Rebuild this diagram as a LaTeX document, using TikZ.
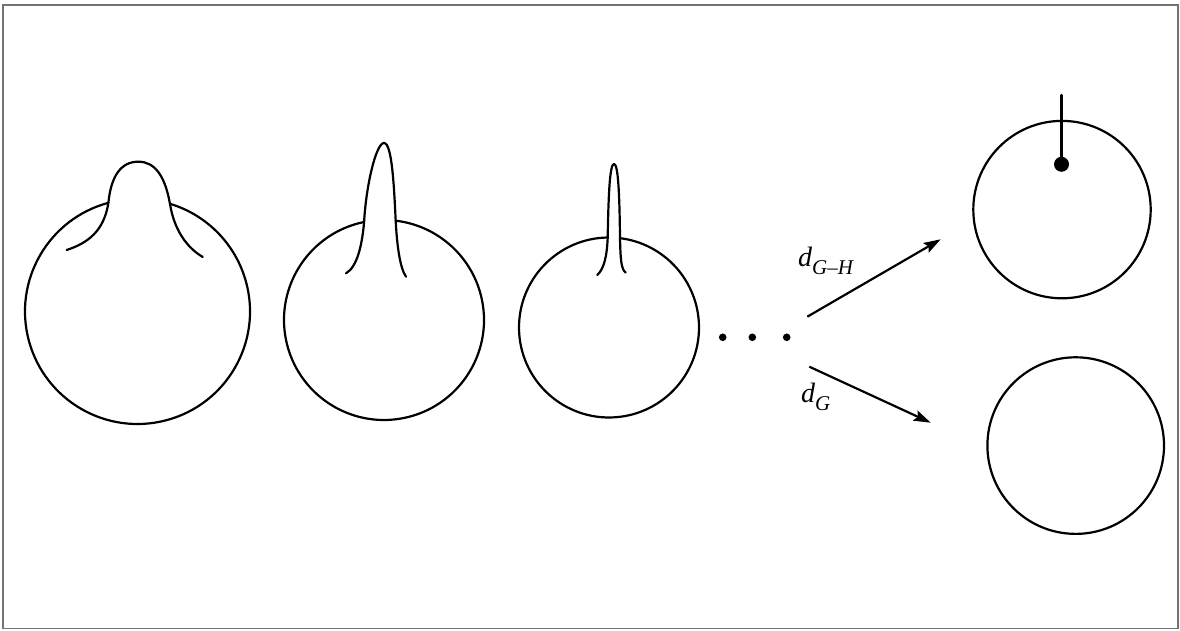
\documentclass[tikz,border=0pt]{standalone}
\usepackage{fontspec}
\setmainfont{Liberation Serif}
\usetikzlibrary{arrows.meta}
\tikzset{
  curve/.style={line width=2.2pt, line cap=round, line join=round},
  arr/.style={line width=2.2pt, -{Stealth[length=17pt,width=11pt,inset=3pt]}},
  lbl/.style={anchor=base west, inner sep=0pt, font=\fontsize{28}{30}\selectfont\itshape},
  frame/.style={draw=black!55, line width=1.8pt},
  dotfill/.style={fill=black}
}
\newcommand{\lblsub}[1]{\raisebox{-8pt}{\fontsize{21}{22}\selectfont #1}}
\begin{document}
\begin{tikzpicture}[x=1pt,y=1pt]
\useasboundingbox (0,0) rectangle (1180,631);
\draw[frame] (3,2.5) rectangle (1178,626);

% shape 1
\draw[curve] ([shift={(105:112.5)}]137.5,319.5) arc[start angle=105, end angle=433, radius=112.5];
\draw[curve] (66.7,381) .. controls (88,388) and (104,400) .. (108.4,428.2)
  .. controls (111,455) and (121,469.3) .. (138.3,469.3)
  .. controls (155,469.3) and (165,455) .. (170,427)
  .. controls (174,402) and (186,384) .. (202.7,374);

% shape 2
\draw[curve] ([shift={(101.5:100)}]384,311) arc[start angle=101.5, end angle=443.3, radius=100];
\draw[curve] (346,357.7) .. controls (357,364) and (362,385) .. (364.1,409)
  .. controls (366,445) and (376,488) .. (384,488)
  .. controls (392,488) and (394,445) .. (395.7,410)
  .. controls (397,385) and (400,363) .. (406,354.3);

% shape 3
\draw[curve] ([shift={(90.8:90)}]609,303.5) arc[start angle=90.8, end angle=443, radius=90];
\draw[curve] (597.3,356) .. controls (604,362) and (607,375) .. (607.7,393.5)
  .. controls (608.5,440) and (610,467) .. (614,467)
  .. controls (618,467) and (619.5,440) .. (620,392.8)
  .. controls (620.5,372) and (621,362) .. (625.7,358.3);

% dots
\fill[dotfill] (722.7,293.7) circle[radius=3.8];
\fill[dotfill] (752.3,293.7) circle[radius=3.8];
\fill[dotfill] (786.7,293.7) circle[radius=3.8];

% arrows
\coordinate (a1s) at (807.3,314.3);
\coordinate (a1e) at (940.7,391.7);
\coordinate (a2s) at (809.3,264.3);
\coordinate (a2e) at (930.7,208.3);
\draw[arr] (a1s) -- (a1e);
\draw[arr] (a2s) -- (a2e);
\node[lbl] (l1) at (798,364) {d\lblsub{G–H}};
\node[lbl] (l2) at (801,228) {d\lblsub{G}};

% right circles
\draw[curve] (1062,421.4) circle[radius=88.7];
\coordinate (stemtop) at (1061.5,536);
\node[circle, fill=black, inner sep=0pt, minimum size=15pt] (pt) at (1061.5,466.7) {};
\draw[curve] (pt.center) -- (stemtop);
\draw[curve] (1075.7,185.4) circle[radius=88.3];
\end{tikzpicture}
\end{document}
